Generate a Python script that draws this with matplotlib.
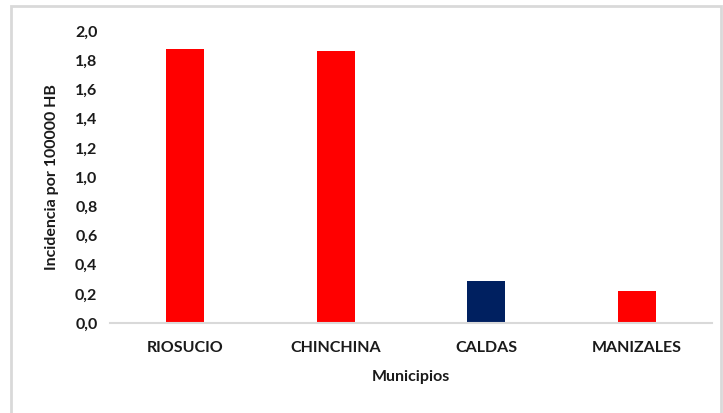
import matplotlib.pyplot as plt
from matplotlib.patches import Rectangle

# datos
municipios = ["RIOSUCIO", "CHINCHINA", "CALDAS", "MANIZALES"]
incidencia = [1.877, 1.863, 0.288, 0.219]
colores = ["#ff0000", "#ff0000", "#002060", "#ff0000"]
y_ticks = [0.0, 0.2, 0.4, 0.6, 0.8, 1.0, 1.2, 1.4, 1.6, 1.8, 2.0]

plt.rcParams['font.family'] = ['Lato', 'DejaVu Sans']

fig = plt.figure(figsize=(7.23, 4.13), dpi=100)
ax = fig.add_axes([110 / 723, 1 - 323 / 413, 602 / 723, 292 / 413])

x = range(len(municipios))
ax.bar(x, incidencia, width=0.25, color=colores)

ax.set_xlim(-0.5, len(municipios) - 0.5)
ax.set_ylim(0, 2.0)
ax.set_yticks(y_ticks)
ax.set_yticklabels([f"{v:.1f}".replace(".", ",") for v in y_ticks],
                   fontsize=11.5, fontweight="bold", color="#1a1a1a")
ax.set_xticks(list(x))
ax.set_xticklabels(municipios, fontsize=11.5, fontweight="bold", color="#1a1a1a")
ax.tick_params(axis="both", length=0)
ax.tick_params(axis="x", pad=13)
ax.tick_params(axis="y", pad=9)

for s in ["top", "right", "left"]:
    ax.spines[s].set_visible(False)
ax.spines["bottom"].set_color("#d9d9d9")
ax.spines["bottom"].set_linewidth(1.5)

ax.set_xlabel("Municipios", fontsize=11.5, fontweight="bold", color="#1a1a1a", labelpad=11)
fig.text(52 / 723, 1 - 177 / 413, "Incidencia por 100000 HB", rotation=90,
         ha="center", va="center", fontsize=11.5, fontweight="bold", color="#1a1a1a")

# marco del grafico
fig.patches.append(Rectangle((11 / 723, -0.01), 710 / 723, 1 - 6 / 413 + 0.01,
                             transform=fig.transFigure, fill=False,
                             edgecolor="#d9d9d9", linewidth=2))

fig.savefig("out.png", dpi=100)
